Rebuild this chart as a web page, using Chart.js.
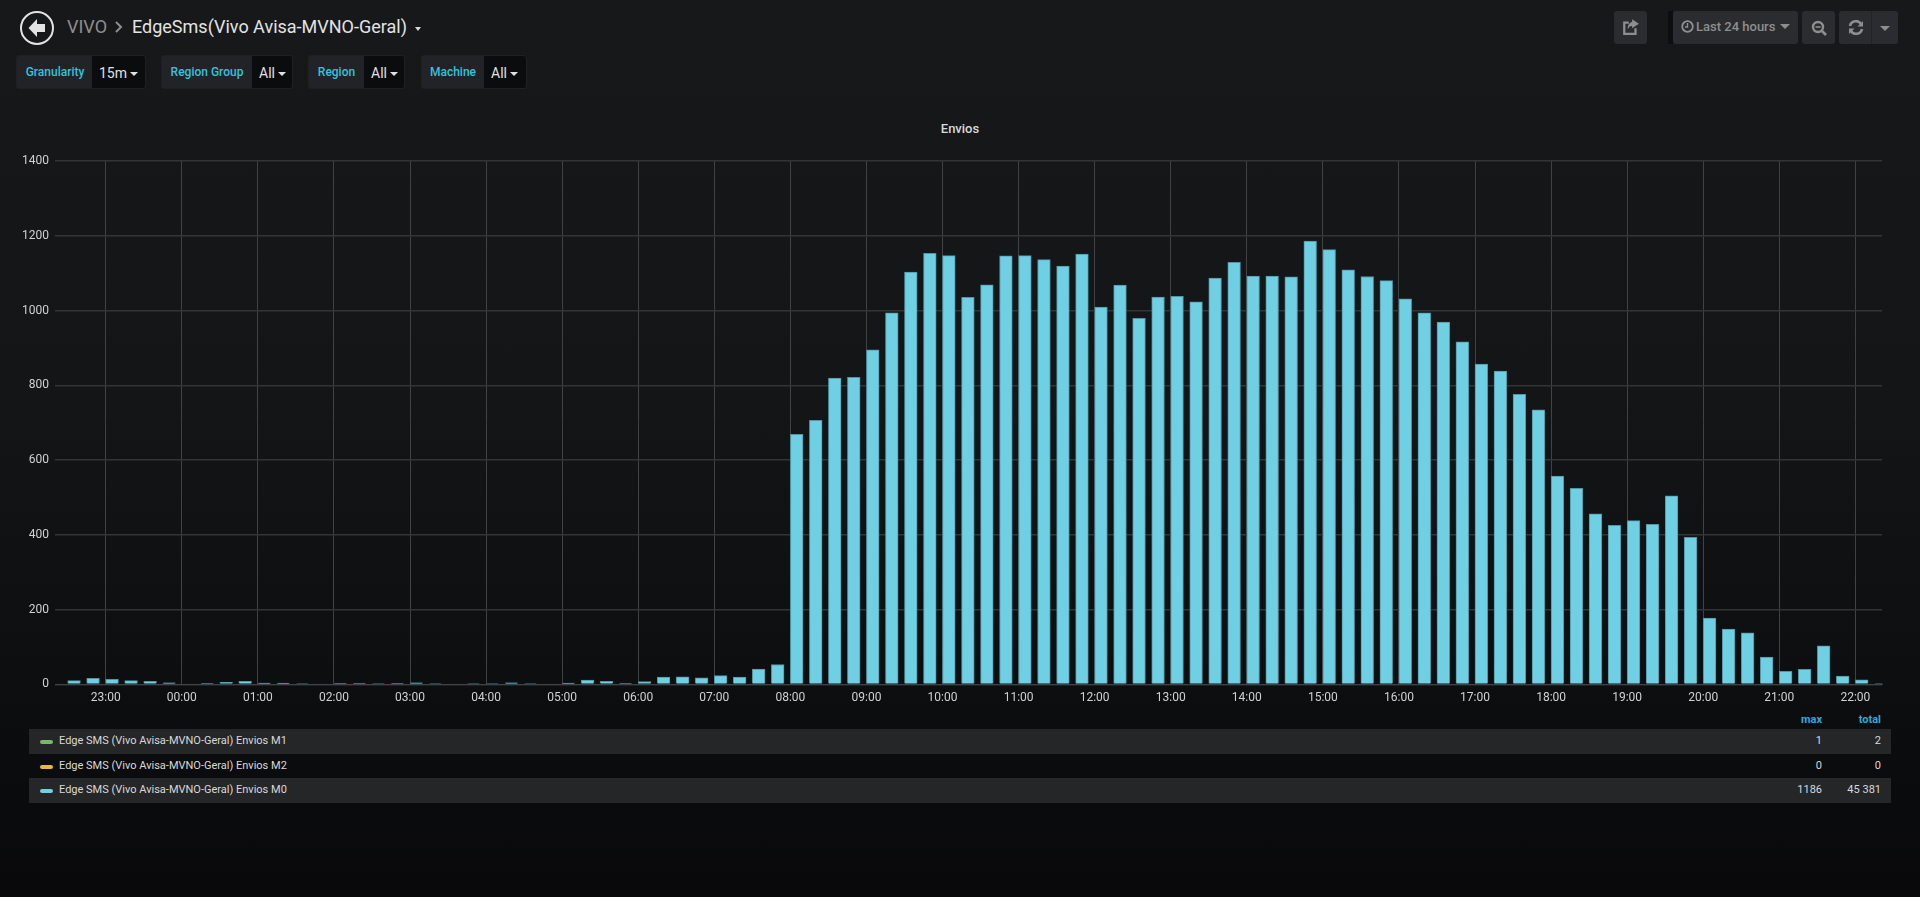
<!DOCTYPE html>
<html>
<head>
<meta charset="utf-8">
<title>EdgeSms</title>
<script src="https://cdn.jsdelivr.net/npm/chart.js@4"></script>
<style>
  html, body { margin: 0; padding: 0; width: 1920px; height: 897px; overflow: hidden; }
  body { background: linear-gradient(180deg, #17181a 0%, #141517 45%, #0c0d0f 80%, #09090b 100%); font-family: Roboto, sans-serif; color: #d8d9da; position: relative; }
  .abs { position: absolute; }
  .crumb { top: 16px; font-size: 18px; line-height: 22px; white-space: nowrap; }
  .var { top: 55px; height: 34px; box-sizing: border-box; border: 1px solid #1f2022; border-radius: 3px; background: #212326; overflow: hidden; font-size: 12px; line-height: 33px; }
  .var .lab { position: absolute; left: 0; top: 0; bottom: 0; color: #2fc5dc; font-weight: 500; text-align: center; }
  .var .val { position: absolute; right: 0; top: 0; bottom: 0; background: #0b0c0e; color: #e0e1e2; font-size: 14px; line-height: 34px; padding-left: 7px; }
  .caret { display: inline-block; width: 0; height: 0; border-left: 4px solid transparent; border-right: 4px solid transparent; border-top: 4px solid currentColor; vertical-align: 2px; margin-left: 3px; }
  .btn { top: 11px; height: 33px; background: #2b2c2f; border-radius: 3px; color: #8e8e8e; font-size: 13px; font-weight: 500; line-height: 32px; }
  .btn svg { position: absolute; }
  .row { left: 29px; width: 1862px; height: 25px; line-height: 23px; font-size: 11px; color: #d8d9da; }
  .row.alt { background: #252628; }
  .row .swatch { position: absolute; left: 11px; top: 11px; width: 13px; height: 4px; border-radius: 2px; }
  .row .name { position: absolute; left: 30px; }
  .row .max { position: absolute; right: 69px; }
  .row .total { position: absolute; right: 10px; }
  .head { top: 712px; font-size: 11px; line-height: 15px; color: #2ea8dd; font-weight: 700; }
  #wrap { position: absolute; left: 0; top: 140px; width: 1920px; height: 570px; }
</style>
</head>
<body>

<svg class="abs" style="left:19px;top:10px" width="36" height="36" viewBox="0 0 36 36">
  <circle cx="18" cy="18" r="16" fill="none" stroke="#e3e3e3" stroke-width="2"/>
  <path d="M18 9 L9.5 18 L18 27 L18 22 L26 22 L26 14 L18 14 Z" fill="#e3e3e3"/>
</svg>
<div class="abs crumb" style="left:67px;color:#8e8e8e">VIVO</div>
<svg class="abs" style="left:114px;top:21px" width="10" height="12" viewBox="0 0 10 12"><path d="M2 1 L7 6 L2 11" fill="none" stroke="#8e8e8e" stroke-width="2"/></svg>
<div class="abs crumb" style="left:132px;color:#e3e3e3">EdgeSms(Vivo Avisa-MVNO-Geral)</div>
<div class="abs" style="left:415px;top:27px;color:#d8d9da;font-size:0"><span class="caret" style="border-left-width:3px;border-right-width:3px;margin:0"></span></div>

<div class="abs var" style="left:16px;width:130px"><span class="lab" style="width:76px">Granularity</span><span class="val" style="width:53px;box-sizing:border-box">15m<span class="caret"></span></span></div>
<div class="abs var" style="left:161px;width:132px"><span class="lab" style="width:90px">Region Group</span><span class="val" style="width:40px;box-sizing:border-box">All<span class="caret"></span></span></div>
<div class="abs var" style="left:308px;width:97px"><span class="lab" style="width:55px">Region</span><span class="val" style="width:40px;box-sizing:border-box">All<span class="caret"></span></span></div>
<div class="abs var" style="left:421px;width:106px"><span class="lab" style="width:62px">Machine</span><span class="val" style="width:42px;box-sizing:border-box">All<span class="caret"></span></span></div>

<div class="abs btn" style="left:1614px;width:33px">
  <svg style="left:8px;top:7px" width="18" height="18" viewBox="0 0 16 16"><path d="M12 9 V14 H2 V4 H6" fill="none" stroke="#8e8e8e" stroke-width="2"/><path d="M9 1 L15 5 L9 9 V7 C7 7 6 8 5 10 C5 6 7 3.5 9 3.5 Z" fill="#8e8e8e"/></svg>
</div>
<div class="abs" style="left:1668px;top:11px;width:5px;height:33px;background:#0d0e10"></div>
<div class="abs btn" style="left:1673px;width:125px;white-space:nowrap">
  <svg style="left:8px;top:9px" width="13" height="13" viewBox="0 0 13 13"><circle cx="6.5" cy="6.5" r="5.3" fill="none" stroke="#8e8e8e" stroke-width="1.8"/><path d="M6.5 3 V7 H4" fill="none" stroke="#8e8e8e" stroke-width="1.4"/></svg>
  <span style="position:absolute;left:23px">Last 24 hours</span>
  <span class="caret" style="position:absolute;left:107px;top:13px;margin:0;border-left-width:5px;border-right-width:5px;border-top-width:5px"></span>
</div>
<div class="abs btn" style="left:1802px;width:33px">
  <svg style="left:9px;top:9px" width="16" height="16" viewBox="0 0 16 16"><circle cx="7" cy="7" r="5" fill="none" stroke="#8e8e8e" stroke-width="2.4"/><path d="M11 11 L15 15" stroke="#8e8e8e" stroke-width="2.6"/><path d="M4.5 7 H9.5" stroke="#8e8e8e" stroke-width="1.6"/></svg>
</div>
<div class="abs btn" style="left:1839px;width:59px">
  <svg style="left:9px;top:9px" width="16" height="15" viewBox="0 0 16 15"><path d="M2 6 A6 6 0 0 1 13 4" fill="none" stroke="#8e8e8e" stroke-width="2.6"/><path d="M15 1 V6.5 H9.5 Z" fill="#8e8e8e"/><path d="M14 9 A6 6 0 0 1 3 11" fill="none" stroke="#8e8e8e" stroke-width="2.6"/><path d="M1 14 V8.5 H6.5 Z" fill="#8e8e8e"/></svg>
  <div class="abs" style="left:32px;top:0;width:1px;height:33px;background:#222326"></div>
  <span class="caret" style="position:absolute;left:41px;top:15px;margin:0;border-left-width:5px;border-right-width:5px;border-top-width:5px"></span>
</div>

<div class="abs" style="left:0;width:1920px;top:122px;text-align:center;font-size:13px;font-weight:500;line-height:14px;color:#d8d9da">Envios</div>

<div id="wrap"><canvas id="graph"></canvas></div>

<div class="abs head" style="right:98px">max</div>
<div class="abs head" style="right:39px">total</div>
<div id="legend"></div>

<script>
// 15 minute buckets, one row per hour
const times = [
  "22:30","22:45",
  "23:00","23:15","23:30","23:45",
  "00:00","00:15","00:30","00:45",
  "01:00","01:15","01:30","01:45",
  "02:00","02:15","02:30","02:45",
  "03:00","03:15","03:30","03:45",
  "04:00","04:15","04:30","04:45",
  "05:00","05:15","05:30","05:45",
  "06:00","06:15","06:30","06:45",
  "07:00","07:15","07:30","07:45",
  "08:00","08:15","08:30","08:45",
  "09:00","09:15","09:30","09:45",
  "10:00","10:15","10:30","10:45",
  "11:00","11:15","11:30","11:45",
  "12:00","12:15","12:30","12:45",
  "13:00","13:15","13:30","13:45",
  "14:00","14:15","14:30","14:45",
  "15:00","15:15","15:30","15:45",
  "16:00","16:15","16:30","16:45",
  "17:00","17:15","17:30","17:45",
  "18:00","18:15","18:30","18:45",
  "19:00","19:15","19:30","19:45",
  "20:00","20:15","20:30","20:45",
  "21:00","21:15","21:30","21:45",
  "22:00","22:15"
];
const m0Values = [
  10,16,
  13,10,8,4,
  0,1,5,8,
  3,3,2,0,
  1,1,2,1,
  4,2,0,2,
  2,4,2,0,
  3,11,8,1,
  7,19,20,17,
  23,19,41,53,
  669,706,819,821,
  895,994,1103,1153,
  1147,1035,1069,1146,
  1147,1136,1119,1151,
  1009,1068,979,1036,
  1038,1023,1087,1129,
  1092,1092,1090,1186,
  1163,1109,1091,1080,
  1031,994,969,916,
  857,838,776,734,
  557,524,456,425,
  438,428,504,393,
  177,148,138,73,
  35,40,103,22,
  12,2
];
// M1 and M2 are too small to see on the graph, they only show in the legend
const seriesNames = [
  "Edge SMS (Vivo Avisa-MVNO-Geral) Envios M1",
  "Edge SMS (Vivo Avisa-MVNO-Geral) Envios M2",
  "Edge SMS (Vivo Avisa-MVNO-Geral) Envios M0"
];
const seriesColors = ["#7eb26d", "#eab839", "#6ed0e0"];
const seriesMax = ["1", "0", "1186"];
const seriesTotal = ["2", "0", "45 381"];
const yTicks = [0, 200, 400, 600, 800, 1000, 1200, 1400];
const xTicks = ["23:00","00:00","01:00","02:00","03:00","04:00","05:00","06:00","07:00","08:00","09:00","10:00",
  "11:00","12:00","13:00","14:00","15:00","16:00","17:00","18:00","19:00","20:00","21:00","22:00"];

// minutes from midnight of the second day, what comes before midnight is negative
function toMinutes(t, i) {
  let p = t.split(":");
  let m = Number(p[0]) * 60 + Number(p[1]);
  return i < 6 ? m - 1440 : m;
}

const barPx = 12.7;
const pxPerMin = 1827 / 1441;
// grafana starts the bar at its timestamp, chart.js centers it
const barShift = barPx / 2 / pxPerMin;

new Chart(document.getElementById("graph"), {
  type: "bar",
  data: {
    datasets: [{
      label: seriesNames[2],
      data: times.map(function (t, i) { return { x: toMinutes(t, i) + barShift, y: m0Values[i] }; }),
      backgroundColor: "#6fd0e3",
      borderColor: "#4e97a6",
      borderWidth: 1,
      barThickness: barPx
    }]
  },
  options: {
    responsive: true,
    maintainAspectRatio: false,
    animation: false,
    layout: { padding: { left: 0, right: 38, top: 21, bottom: 0 } },
    plugins: { legend: { display: false }, tooltip: { enabled: false } },
    scales: {
      x: {
        type: "linear",
        offset: false,
        min: -100,
        max: 1341,
        afterFit: function (s) { s.height = 25.7; },
        afterBuildTicks: function (s) {
          s.ticks = xTicks.map(function (t, i) { return { value: toMinutes(t, i < 1 ? 0 : 6) }; });
        },
        grid: { offset: false, color: "#414244", lineWidth: 1, drawTicks: false },
        border: { color: "#414244" },
        afterTickToLabelConversion: function (s) {
          s.ticks.forEach(function (k, i) { k.label = xTicks[i]; });
        },
        ticks: {
          autoSkip: false,
          maxRotation: 0,
          padding: 6,
          color: "#d0d1d2",
          font: { family: "Roboto", size: 12 }
        }
      },
      y: {
        min: 0,
        max: 1400,
        afterFit: function (s) { s.width = 55; },
        afterBuildTicks: function (s) { s.ticks = yTicks.map(function (v) { return { value: v }; }); },
        grid: { color: "#333436", lineWidth: 1.4, drawTicks: false },
        border: { display: false },
        ticks: {
          padding: 6,
          color: "#d0d1d2",
          font: { family: "Roboto", size: 12 },
          callback: function (v) { return String(v); }
        }
      }
    }
  }
});

// legend table
let html = "";
for (let i = 0; i < seriesNames.length; i++) {
  let alt = i % 2 == 0 ? " alt" : "";
  html += '<div class="abs row' + alt + '" style="top:' + [729, 754, 778][i] + 'px">' +
    '<span class="swatch" style="background:' + seriesColors[i] + '"></span>' +
    '<span class="name">' + seriesNames[i] + '</span>' +
    '<span class="max">' + seriesMax[i] + '</span>' +
    '<span class="total">' + seriesTotal[i] + '</span></div>';
}
document.getElementById("legend").innerHTML = html;
</script>
</body>
</html>
